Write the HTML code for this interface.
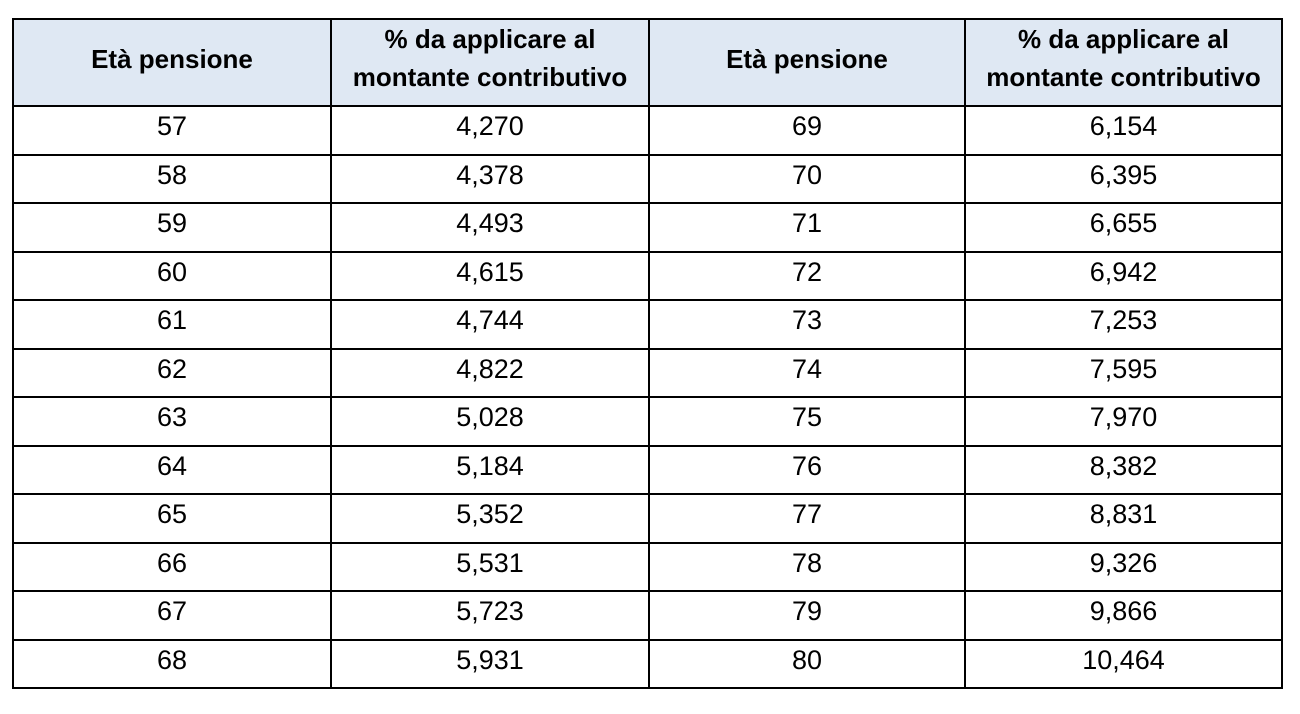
<!DOCTYPE html>
<html>
<head>
<meta charset="utf-8">
<style>
html,body{margin:0;padding:0;background:#fff;}
body{width:1300px;height:714px;position:relative;overflow:hidden;font-family:"Liberation Sans",Arial,sans-serif;color:#000;}
.hl{position:absolute;left:12px;width:1271px;height:2px;background:#000;}
.vl{position:absolute;top:18px;width:2px;height:671px;background:#000;}
.hdr{position:absolute;left:14px;top:20px;width:1267px;height:85px;background:#dfe8f3;}
.h{position:absolute;font-weight:bold;font-size:26px;line-height:26px;text-align:center;white-space:nowrap;}
.d{position:absolute;font-size:27px;line-height:27px;text-align:center;white-space:nowrap;}
.c1{left:14px;width:316px;}
.c2{left:332px;width:316px;}
.c3{left:650px;width:314px;}
.c4{left:966px;width:315px;}
</style>
</head>
<body>
<div class="hdr"></div>

<!-- header text -->
<div class="h c1" style="top:46px;">Età pensione</div>
<div class="h c2" style="top:26px;">% da applicare al</div>
<div class="h c2" style="top:64px;">montante contributivo</div>
<div class="h c3" style="top:46px;">Età pensione</div>
<div class="h c4" style="top:26px;">% da applicare al</div>
<div class="h c4" style="top:64px;">montante contributivo</div>

<!-- data rows -->
<div class="d c1" style="top:113px;">57</div><div class="d c2" style="top:113px;">4,270</div><div class="d c3" style="top:113px;">69</div><div class="d c4" style="top:113px;">6,154</div>
<div class="d c1" style="top:161.5px;">58</div><div class="d c2" style="top:161.5px;">4,378</div><div class="d c3" style="top:161.5px;">70</div><div class="d c4" style="top:161.5px;">6,395</div>
<div class="d c1" style="top:210px;">59</div><div class="d c2" style="top:210px;">4,493</div><div class="d c3" style="top:210px;">71</div><div class="d c4" style="top:210px;">6,655</div>
<div class="d c1" style="top:258.6px;">60</div><div class="d c2" style="top:258.6px;">4,615</div><div class="d c3" style="top:258.6px;">72</div><div class="d c4" style="top:258.6px;">6,942</div>
<div class="d c1" style="top:307.2px;">61</div><div class="d c2" style="top:307.2px;">4,744</div><div class="d c3" style="top:307.2px;">73</div><div class="d c4" style="top:307.2px;">7,253</div>
<div class="d c1" style="top:355.7px;">62</div><div class="d c2" style="top:355.7px;">4,822</div><div class="d c3" style="top:355.7px;">74</div><div class="d c4" style="top:355.7px;">7,595</div>
<div class="d c1" style="top:404.2px;">63</div><div class="d c2" style="top:404.2px;">5,028</div><div class="d c3" style="top:404.2px;">75</div><div class="d c4" style="top:404.2px;">7,970</div>
<div class="d c1" style="top:452.8px;">64</div><div class="d c2" style="top:452.8px;">5,184</div><div class="d c3" style="top:452.8px;">76</div><div class="d c4" style="top:452.8px;">8,382</div>
<div class="d c1" style="top:501.3px;">65</div><div class="d c2" style="top:501.3px;">5,352</div><div class="d c3" style="top:501.3px;">77</div><div class="d c4" style="top:501.3px;">8,831</div>
<div class="d c1" style="top:549.9px;">66</div><div class="d c2" style="top:549.9px;">5,531</div><div class="d c3" style="top:549.9px;">78</div><div class="d c4" style="top:549.9px;">9,326</div>
<div class="d c1" style="top:598.4px;">67</div><div class="d c2" style="top:598.4px;">5,723</div><div class="d c3" style="top:598.4px;">79</div><div class="d c4" style="top:598.4px;">9,866</div>
<div class="d c1" style="top:646.9px;">68</div><div class="d c2" style="top:646.9px;">5,931</div><div class="d c3" style="top:646.9px;">80</div><div class="d c4" style="top:646.9px;">10,464</div>

<!-- horizontal lines -->
<div class="hl" style="top:18px;"></div>
<div class="hl" style="top:105px;"></div>
<div class="hl" style="top:153.5px;"></div>
<div class="hl" style="top:202px;"></div>
<div class="hl" style="top:250.6px;"></div>
<div class="hl" style="top:299.2px;"></div>
<div class="hl" style="top:347.7px;"></div>
<div class="hl" style="top:396.2px;"></div>
<div class="hl" style="top:444.8px;"></div>
<div class="hl" style="top:493.3px;"></div>
<div class="hl" style="top:541.9px;"></div>
<div class="hl" style="top:590.4px;"></div>
<div class="hl" style="top:638.9px;"></div>
<div class="hl" style="top:687px;"></div>

<!-- vertical lines -->
<div class="vl" style="left:12px;"></div>
<div class="vl" style="left:330px;"></div>
<div class="vl" style="left:648px;"></div>
<div class="vl" style="left:964px;"></div>
<div class="vl" style="left:1281px;"></div>
</body>
</html>
